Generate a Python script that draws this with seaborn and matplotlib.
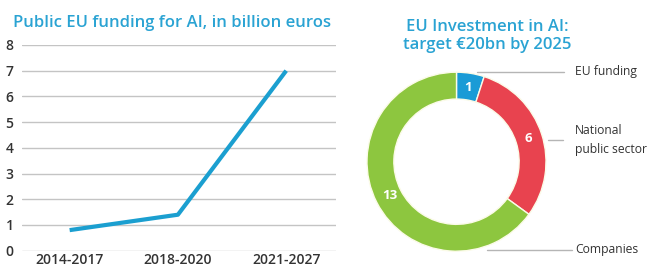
import matplotlib
matplotlib.use("Agg")
import matplotlib.pyplot as plt
import seaborn as sns
import pandas as pd

# ---- data ----
periods = ["2014-2017", "2018-2020", "2021-2027"]
funding = [0.8, 1.4, 7.0]
yticks = [0, 1, 2, 3, 4, 5, 6, 7, 8]

donut_labels = ["EU funding", "National\npublic sector", "Companies"]
donut_values = [1, 6, 13]

line_title = "Public EU funding for AI, in billion euros"
donut_title = "EU Investment in AI:\ntarget €20bn by 2025"

# ---- style ----
sns.set_theme(style="white")
plt.rcParams["font.family"] = ["Open Sans", "DejaVu Sans"]

TITLE_C = "#2aa3d3"
LINE_C = "#1b9fd0"
TEXT_C = "#333333"
GRID_C = "#c4c4c4"
donut_colors = ["#1a9bd6", "#e8434f", "#8dc63f"]

W, H = 651, 266
fig = plt.figure(figsize=(W / 100, H / 100), dpi=100)

def fx(px):
    return px / W

def fy(py):
    return 1 - py / H

# ---- line chart ----
ax = fig.add_axes([fx(22), fy(250.7), fx(336) - fx(22), fy(45) - fy(250.7)])
df = pd.DataFrame({"period": periods, "funding": funding, "x": range(len(periods))})
sns.lineplot(data=df, x="x", y="funding", ax=ax, color=LINE_C, linewidth=3.0,
             solid_capstyle="butt")
ax.set_xlim(-0.44, 2.46)
ax.set_ylim(0, 8)
ax.set_yticks(yticks)
ax.set_yticklabels([str(t) for t in yticks])
ax.set_xticks(range(len(periods)))
ax.set_xticklabels(periods)
ax.set_xlabel("")
ax.set_ylabel("")
for s in ax.spines.values():
    s.set_visible(False)
ax.grid(False)
for t in yticks:
    ax.axhline(t, color=GRID_C, linewidth=1.0, zorder=0)
ax.tick_params(axis="both", length=0, colors=TEXT_C)
ax.tick_params(axis="y", pad=6, labelsize=10)
ax.tick_params(axis="x", pad=1.5, labelsize=10)
for lab in ax.get_xticklabels() + ax.get_yticklabels():
    lab.set_fontweight("semibold")
fig.text(fx(13), fy(23), line_title, color=TITLE_C, fontsize=12.0,
         fontweight="semibold", ha="left", va="center")

# ---- donut ----
cx, cy, R = 456.5, 161.7, 89.5
dax = fig.add_axes([fx(cx - R), fy(cy + R), 2 * R / W, 2 * R / H])
wedges, texts = dax.pie(donut_values, colors=donut_colors, startangle=90,
                        counterclock=False, radius=1.0,
                        wedgeprops=dict(width=0.3, edgecolor="#fbfbe8", linewidth=1.0),
                        labels=[str(v) for v in donut_values], labeldistance=0.84)
for t in texts:
    t.set_color("white")
    t.set_fontweight("bold")
    t.set_fontsize(9.5)
    t.set_ha("center")
    t.set_va("center")
dax.set_xlim(-1, 1)
dax.set_ylim(-1, 1)
dax.set_axis_off()

fig.text(fx(487), fy(36), donut_title, color=TITLE_C, fontsize=12.0,
         fontweight="semibold", ha="center", va="center", linespacing=1.15)

# leader lines and labels
leaders = [((477, 71.7), (564, 71.7), 72),
           ((548, 140), (563, 140), 140),
           ((487, 250), (572, 250), 250)]
for (p0, p1, ty), lab in zip(leaders, donut_labels):
    fig.add_artist(plt.Line2D([fx(p0[0]), fx(p1[0])], [fy(p0[1]), fy(p1[1])],
                              color="#b5b5b5", linewidth=1.0))
    fig.text(fx(575), fy(ty), lab, color=TEXT_C, fontsize=8.7, ha="left",
             va="center", linespacing=1.6)

fig.savefig("out.png", dpi=100)
